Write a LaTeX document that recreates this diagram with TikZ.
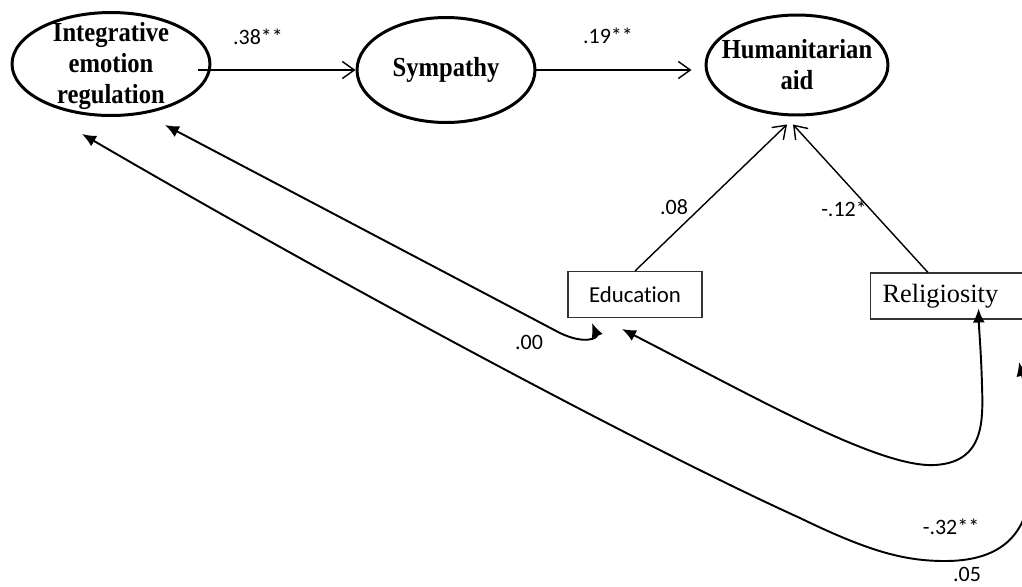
\documentclass[tikz,border=0pt]{standalone}
\usepackage{fontspec}
\usepackage{graphicx}
\setmainfont{Liberation Serif}
\newfontfamily\carlito[Ligatures=NoCommon]{Carlito}
\usetikzlibrary{arrows.meta,calc,shapes.geometric}
\tikzset{
  latentnode/.style={ellipse,draw=black,line width=1.7pt,inner sep=0pt,
    font=\bfseries\fontsize{14}{15.8}\selectfont},
  obsbox/.style={rectangle,draw=black!80,line width=0.6pt,minimum height=0.92cm},
  patharrow/.style={-{Straight Barb[length=2.4mm,width=3.4mm]},line width=0.8pt},
  covarrow/.style={{Latex[length=2.8mm,width=2.4mm]}-{Latex[length=2.8mm,width=2.4mm]},line width=1.1pt},
  coeflabel/.style={font=\carlito\fontsize{12.5}{15}\selectfont,inner sep=1pt}
}
\newcommand{\lvtext}[2][-0.38cm]{\makebox[0pt]{\raisebox{#1}{\smash{\scalebox{1}[1.12]{\begin{tabular}{@{}c@{}}#2\end{tabular}}}}}}

\begin{document}
\begin{tikzpicture}[x=0.02cm,y=-0.02cm]
  \useasboundingbox (0,0) rectangle (1022,586);
  \clip (0,0) rectangle (1022,586);
  % latent variables
  \node[latentnode,minimum width=3.96cm,minimum height=2.06cm] (ier) at (111,64) {\lvtext{Integrative\\emotion\\regulation}};
  \node[latentnode,minimum width=3.56cm,minimum height=2.1cm] (sym) at (446,70) {\lvtext[-0.3cm]{Sympathy}};
  \node[latentnode,minimum width=3.64cm,minimum height=2.0cm] (ha) at (797,65) {\lvtext{Humanitarian\\aid}};
  % observed covariates
  \node[obsbox,minimum width=2.68cm,font=\carlito\fontsize{13}{15.5}\selectfont] (edu) at (635,294.5) {Education};
  \node[obsbox,anchor=west,text width=2.72cm,inner xsep=0.24cm,align=left,
    font=\fontsize{15}{18}\selectfont] (rel) at (870,296) {Religiosity};
  \coordinate (offvar) at (1019,362);
  % paths
  \draw[patharrow] ($(ier.east |- sym.west)+(-13,0)$) -- (sym.west);
  \draw[patharrow] (sym.east) -- ($(ha.west |- sym.east)+(-13,0)$);
  \draw[patharrow] (edu.north) -- ([shift={(-10,8)}]ha.south);
  \draw[patharrow] ([shift={(58,0)}]rel.north west) -- ([shift={(-4,8)}]ha.south);
  % covariances
  \draw[covarrow] ([shift={(54,8)}]ier.south) -- (560,333)
    .. controls (585,345) and (598,338) .. ([shift={(-43,5)}]edu.south);
  \draw[covarrow] ([shift={(-13,11)}]edu.south) .. controls (760,400) and (880,468) .. (935,465)
    .. controls (985,462) and (983,420) .. (982,385)
    .. controls (981,350) and (979,330) .. ([shift={(28,-11)}]rel.south);
  \draw[covarrow] ([shift={(-29,17)}]ier.south) .. controls (350,290) and (650,450) .. (800,518)
    .. controls (870,552) and (905,561) .. (945,561)
    .. controls (995,561) and (1020,540) .. (1028,505)
    .. controls (1036,460) and (1028,400) .. (offvar);
  % coefficients
  \node[coeflabel] (b38) at (258,37) {.38**};
  \node[coeflabel] (b19) at (608,36) {.19**};
  \node[coeflabel] (b08) at (674,207) {.08};
  \node[coeflabel] (b12) at (844,209) {-.12*};
  \node[coeflabel] (c00) at (529,342) {.00};
  \node[coeflabel] (c32) at (951,527) {-.32**};
  \node[coeflabel] (c05) at (967,574) {.05};
\end{tikzpicture}
\end{document}
